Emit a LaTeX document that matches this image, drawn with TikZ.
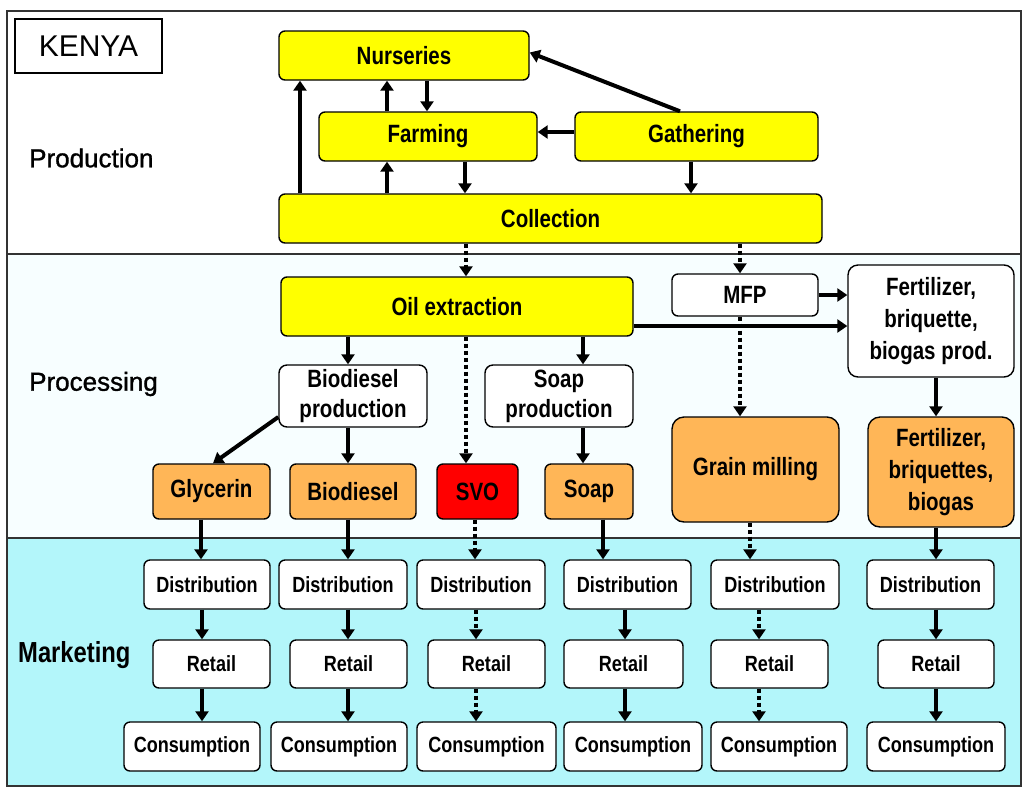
\documentclass[tikz,border=0pt]{standalone}
\usepackage{fontspec}
\setmainfont{Liberation Sans}
\newfontfamily\cond[FakeStretch=0.82]{Liberation Sans}
\newfontfamily\labfont[FakeBold=1.2]{Liberation Sans}
\usetikzlibrary{arrows.meta}
\definecolor{yel}{HTML}{FFFF00}
\definecolor{org}{HTML}{FFB657}
\definecolor{svored}{HTML}{FF0000}
\definecolor{mktbg}{HTML}{B3F6FA}
\definecolor{procbg}{HTML}{F7FEFF}
\definecolor{frame}{HTML}{333333}
\newcommand\mybox[7]{\node[#1,minimum width={#5-#3},minimum height={#6-#4}] (#2) at ({(#3+#5)/2},{(#4+#6)/2}) {#7};}
\tikzset{
  base/.style={draw=black, line width=1.4pt, rounded corners=6pt, inner sep=0pt, align=center,
    font=\cond\bfseries\fontsize{25}{32}\selectfont},
  ybox/.style={base, fill=yel},
  wbox/.style={base, fill=white},
  obox/.style={base, fill=org},
  rbox/.style={base, fill=svored},
  mbox/.style={base, fill=white, font=\cond\bfseries\fontsize{22}{26}\selectfont},
  arr/.style={line width=4pt, -{Triangle[length=10pt,width=13pt]}},
  darr/.style={arr, dash pattern=on 4pt off 3pt},
  seclabel/.style={anchor=west, inner sep=0pt, font=\labfont\fontsize{26}{30}\selectfont},
}
\begin{document}
\begin{tikzpicture}[x=1pt,y=-1pt]
\useasboundingbox (0,0) rectangle (1022,788);
% backgrounds
\fill[procbg] (7,254) rectangle (1021,538);
\fill[mktbg] (7,538) rectangle (1021,786);
\draw[frame, line width=1.6pt] (7,254) -- (1021,254);
\draw[frame, line width=1.6pt] (7,538) -- (1021,538);
\draw[frame, line width=2pt] (7,11) rectangle (1021,786);

% x / y helper coordinates
\foreach \x in {201,202,213,300,348,387,427,465,466,475,476,583,603,625,680,691,740,750,759,936}
  \coordinate (c\x) at (\x,0);
\foreach \y in {132,326,417}
  \coordinate (h\y) at (0,\y);

% labels
\node[draw=black, line width=2pt, minimum width=147, minimum height=54, inner sep=0pt,
  font=\fontsize{30}{34}\selectfont] (kenya) at (88.5,46) {KENYA};
\node[seclabel] (lprod) at (29,158) {Production};
\node[seclabel] (lproc) at (29,384) {Processing};
\node[seclabel, font=\cond\bfseries\fontsize{29}{32}\selectfont] (lmkt) at (18,655) {Marketing};

% production
\mybox{ybox}{nurs}{279}{31}{529}{80}{Nurseries}
\mybox{ybox}{farm}{319}{112}{537}{161}{Farming}
\mybox{ybox}{gath}{575}{112}{818}{161}{Gathering}
\mybox{ybox}{coll}{279}{194}{822}{243}{Collection}

% processing
\mybox{ybox}{oil}{281}{277}{633}{336}{Oil extraction}
\mybox{wbox}{mfp}{672}{274}{818}{316}{MFP}
\mybox{wbox, rounded corners=10pt}{fprod}{848}{265}{1014}{377}{Fertilizer,\\briquette,\\biogas prod.}
\mybox{wbox, font=\cond\bfseries\fontsize{25}{30}\selectfont, rounded corners=8pt}{bprod}{279}{365}{427}{427}{Biodiesel\\production}
\mybox{wbox, font=\cond\bfseries\fontsize{25}{30}\selectfont, rounded corners=8pt}{sprod}{485}{365}{633}{427}{Soap\\production}
\mybox{obox}{glyc}{153}{464}{270}{519}{Glycerin}
\mybox{obox}{biod}{290}{464}{416}{519}{Biodiesel}
\mybox{rbox}{svo}{437}{464}{518}{519}{SVO}
\mybox{obox}{soap}{545}{464}{633}{519}{Soap}
\mybox{obox, rounded corners=12pt}{grain}{672}{417}{839}{522}{Grain milling}
\mybox{obox, rounded corners=12pt}{fert}{868}{417}{1014}{527}{Fertilizer,\\briquettes,\\biogas}

% marketing
\mybox{mbox}{d1}{144}{560}{270}{609}{Distribution}
\mybox{mbox}{r1}{153}{640}{270}{688}{Retail}
\mybox{mbox}{k1}{124}{722}{260}{771}{Consumption}
\mybox{mbox}{d2}{279}{560}{407}{609}{Distribution}
\mybox{mbox}{r2}{290}{640}{407}{688}{Retail}
\mybox{mbox}{k2}{271}{722}{407}{771}{Consumption}
\mybox{mbox}{d3}{417}{560}{545}{609}{Distribution}
\mybox{mbox}{r3}{428}{640}{545}{688}{Retail}
\mybox{mbox}{k3}{417}{722}{556}{771}{Consumption}
\mybox{mbox}{d4}{564}{560}{691}{609}{Distribution}
\mybox{mbox}{r4}{564}{640}{683}{688}{Retail}
\mybox{mbox}{k4}{564}{722}{702}{771}{Consumption}
\mybox{mbox}{d5}{711}{560}{839}{609}{Distribution}
\mybox{mbox}{r5}{711}{640}{828}{688}{Retail}
\mybox{mbox}{k5}{711}{722}{847}{771}{Consumption}
\mybox{mbox}{d6}{867}{560}{994}{609}{Distribution}
\mybox{mbox}{r6}{878}{640}{994}{688}{Retail}
\mybox{mbox}{k6}{867}{722}{1005}{771}{Consumption}

% production arrows
\draw[arr] (coll.north -| c300) -- (nurs.south -| c300);
\draw[arr] (farm.north -| c387) -- (nurs.south -| c387);
\draw[arr] (nurs.south -| c427) -- (farm.north -| c427);
\draw[arr] (coll.north -| c387) -- (farm.south -| c387);
\draw[arr] (farm.south -| c465) -- (coll.north -| c465);
\draw[arr] (gath.west |- h132) -- (farm.east |- h132);
\draw[arr] (gath.north -| c680) -- ([yshift=3pt]nurs.east);
\draw[arr] (gath.south -| c691) -- (coll.north -| c691);
\draw[darr] (coll.south -| c466) -- (oil.north -| c466);
\draw[darr] (coll.south -| c740) -- (mfp.north -| c740);

% processing arrows
\draw[arr] (mfp.east) -- (mfp.east -| fprod.west);
\draw[arr] (oil.east |- h326) -- (fprod.west |- h326);
\draw[arr] (oil.south -| c348) -- (bprod.north -| c348);
\draw[arr] (oil.south -| c583) -- (sprod.north -| c583);
\draw[darr] (oil.south -| c466) -- (svo.north -| c466);
\draw[arr] (bprod.west |- h417) -- (glyc.north -| c213);
\draw[arr] (bprod.south -| c348) -- (biod.north -| c348);
\draw[arr] (sprod.south -| c583) -- (soap.north -| c583);
\draw[darr] (mfp.south -| c740) -- (grain.north -| c740);
\draw[arr] (fprod.south -| c936) -- (fert.north -| c936);

% marketing arrows
\draw[arr] (glyc.south -| c201) -- (d1.north -| c201);
\draw[arr] (d1.south -| c202) -- (r1.north -| c202);
\draw[arr] (r1.south -| c202) -- (k1.north -| c202);
\draw[arr] (biod.south -| c348) -- (d2.north -| c348);
\draw[arr] (d2.south -| c348) -- (r2.north -| c348);
\draw[arr] (r2.south -| c348) -- (k2.north -| c348);
\draw[darr] (svo.south -| c475) -- (d3.north -| c475);
\draw[darr] (d3.south -| c476) -- (r3.north -| c476);
\draw[darr] (r3.south -| c476) -- (k3.north -| c476);
\draw[arr] (soap.south -| c603) -- (d4.north -| c603);
\draw[arr] (d4.south -| c625) -- (r4.north -| c625);
\draw[arr] (r4.south -| c625) -- (k4.north -| c625);
\draw[darr] (grain.south -| c750) -- (d5.north -| c750);
\draw[darr] (d5.south -| c759) -- (r5.north -| c759);
\draw[darr] (r5.south -| c759) -- (k5.north -| c759);
\draw[arr] (fert.south -| c936) -- (d6.north -| c936);
\draw[arr] (d6.south -| c936) -- (r6.north -| c936);
\draw[arr] (r6.south -| c936) -- (k6.north -| c936);
\end{tikzpicture}
\end{document}
